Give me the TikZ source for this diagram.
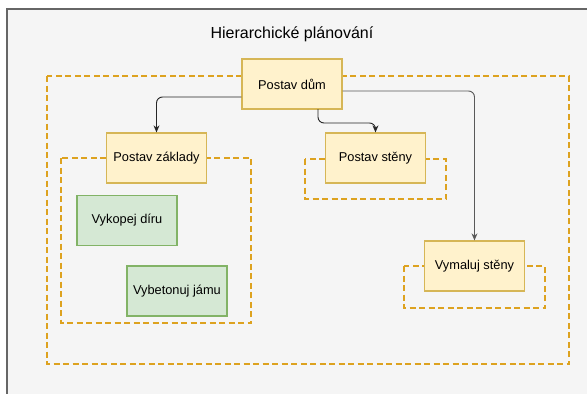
\documentclass[tikz,border=0pt]{standalone}
\usepackage{fontspec}
\setmainfont{Liberation Sans}
\usetikzlibrary{arrows.meta}
\definecolor{bgfill}{HTML}{F5F5F5}
\definecolor{bgline}{HTML}{666666}
\definecolor{yfill}{HTML}{FFF2CC}
\definecolor{yline}{HTML}{D6B656}
\definecolor{gfill}{HTML}{D5E8D4}
\definecolor{gline}{HTML}{82B366}
\definecolor{dashc}{HTML}{DDA21F}
\tikzset{
  task/.style={draw=yline, fill=yfill, line width=1.3pt, minimum width=100pt, minimum height=50pt, inner sep=0pt, font=\fontsize{12.8}{15}\selectfont},
  subtask/.style={draw=gline, fill=gfill, line width=1.3pt, minimum width=100pt, minimum height=50pt, inner sep=0pt, font=\fontsize{12.8}{15}\selectfont},
  grp/.style={draw=dashc, line width=1.6pt, dash pattern=on 6pt off 3.5pt},
  conn/.style={draw=black!85, line width=0.9pt, rounded corners=6pt, -{Stealth[length=7pt,width=6pt]}}
}
\begin{document}
\begin{tikzpicture}[x=1pt,y=-1pt]
\useasboundingbox (0,0) rectangle (587,394);
\clip (0,0) rectangle (587,394);
\draw[fill=bgfill, draw=bgline, line width=1.2pt] (7,9) rectangle (600,410);
\node[font=\fontsize{16}{19}\selectfont] (title) at (292,34) {Hierarchické plánování};
% groups
\draw[grp] (47,76) rectangle (569,364);
\draw[grp] (61,158) rectangle (251,323);
\draw[grp] (305,159) rectangle (446,199);
\draw[grp] (404,266) rectangle (545,308);
% nodes
\node[task] (dum) at (292,84) {Postav dům};
\node[task] (zakl) at (156.5,158) {Postav základy};
\node[task] (steny) at (375.5,158) {Postav stěny};
\node[task] (vym) at (474.5,266) {Vymaluj stěny};
\node[subtask] (kop) at (127,220.5) {Vykopej díru};
\node[subtask] (bet) at (177,291) {Vybetonuj jámu};
% connectors
\draw[conn] (dum.west |- 0,97) -| (zakl.north);
\draw[conn] (318,109) -- (318,123) -| (steny.north);
\draw[conn, draw=black!65] (dum.east |- 0,91) -| (vym.north);
\end{tikzpicture}
\end{document}
